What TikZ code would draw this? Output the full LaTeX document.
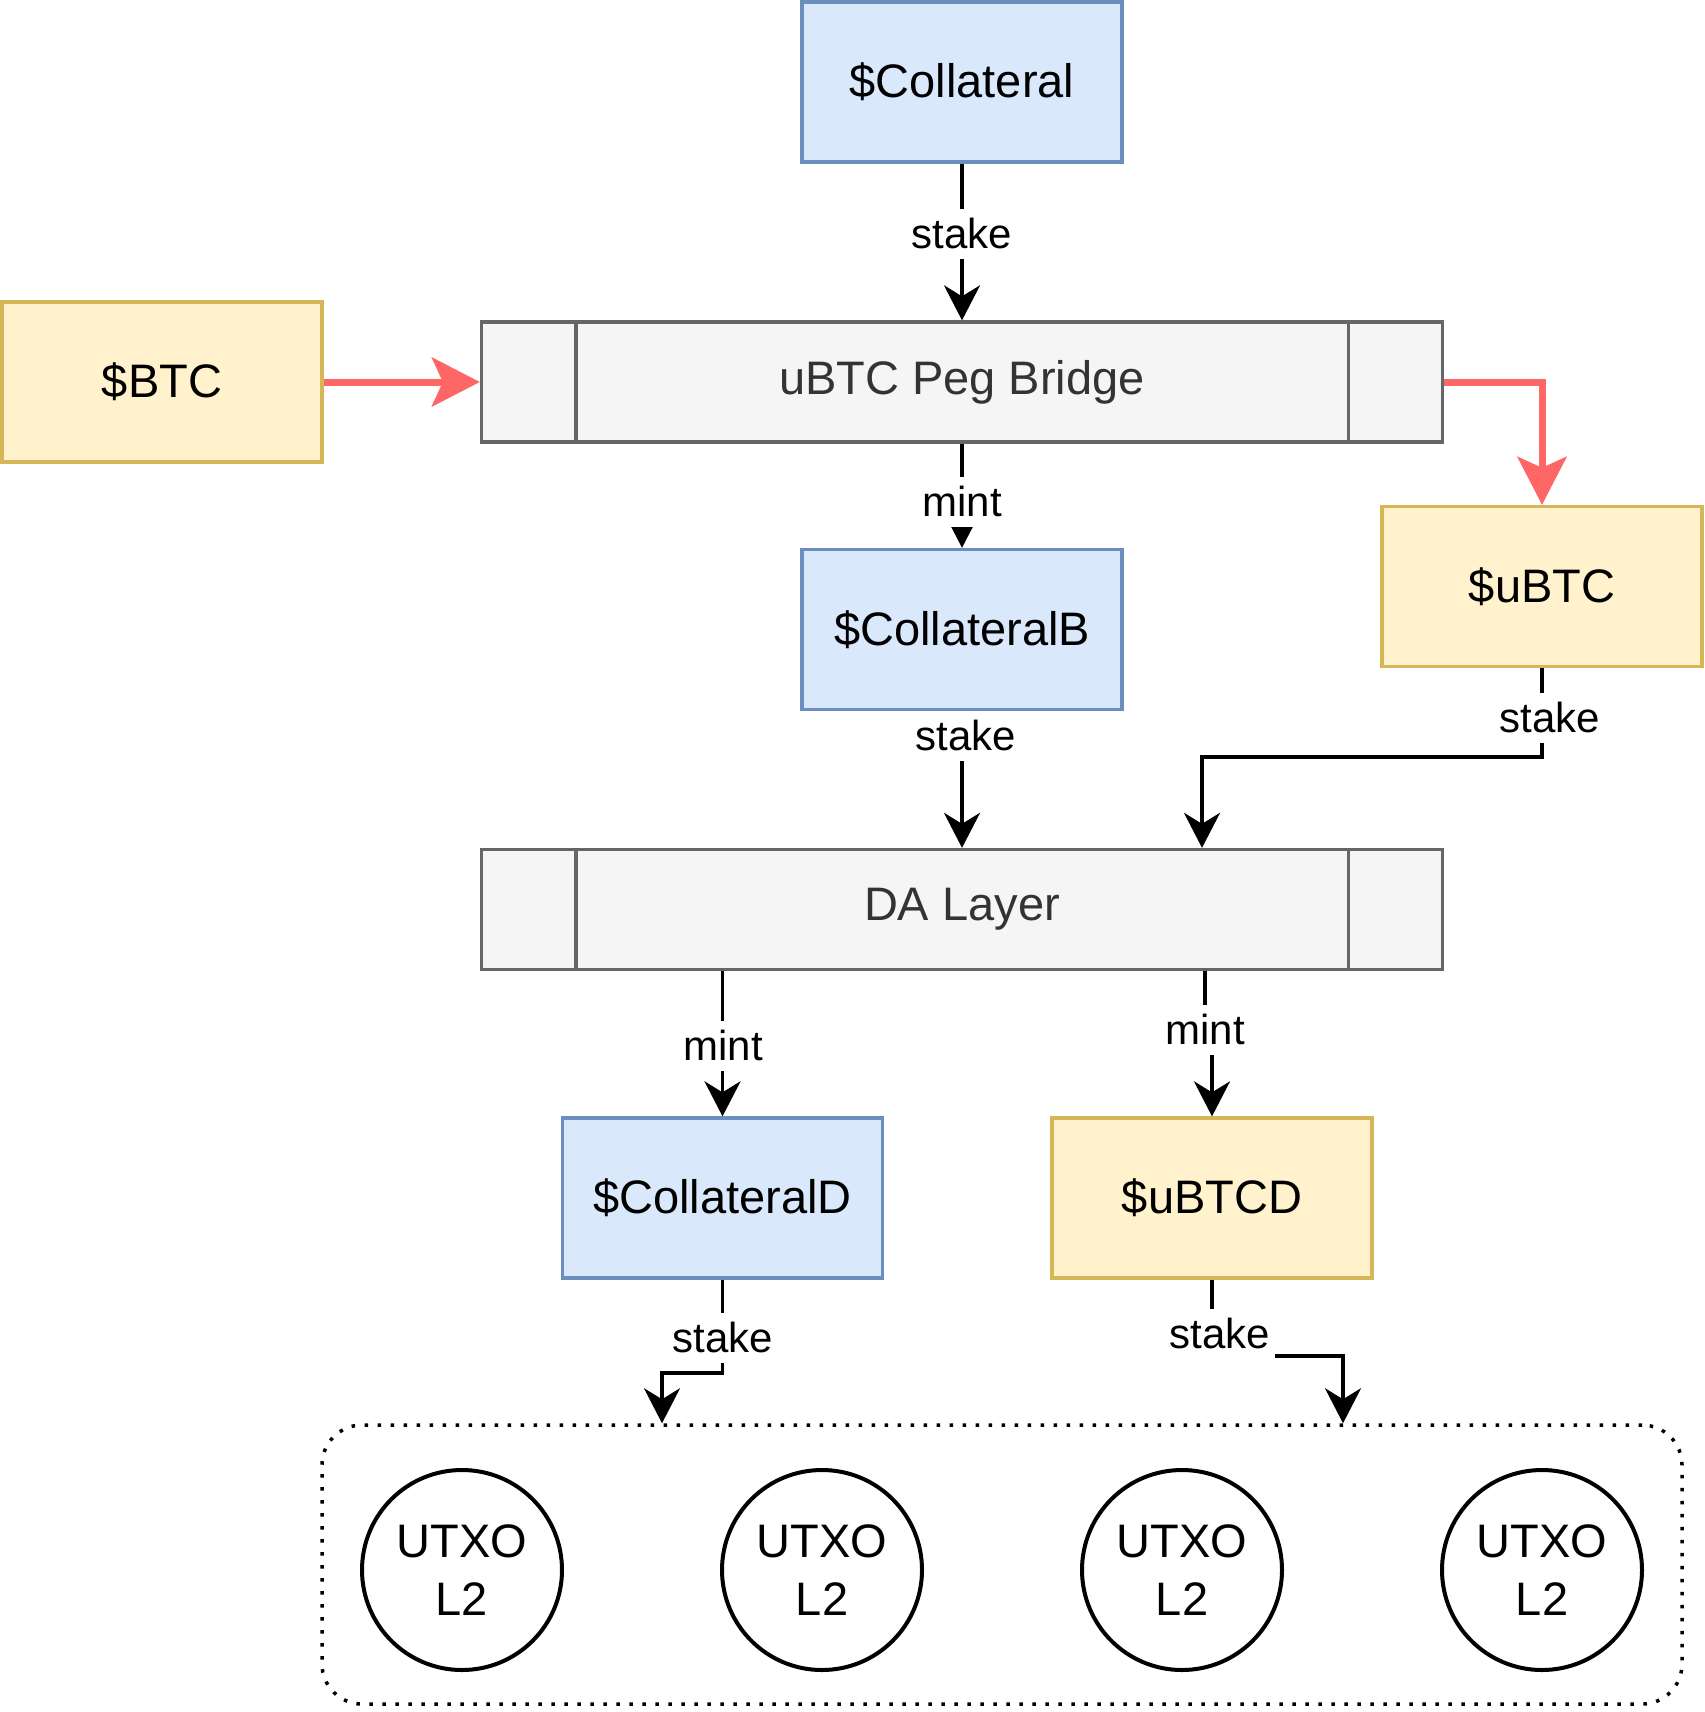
\documentclass[tikz,border=0pt]{standalone}
\usepackage{fontspec}
\setmainfont{Liberation Sans}
\usetikzlibrary{arrows.meta}
\definecolor{bluefill}{HTML}{DAE8FC}
\definecolor{bluestroke}{HTML}{6C8EBF}
\definecolor{yellowfill}{HTML}{FFF2CC}
\definecolor{yellowstroke}{HTML}{D6B656}
\definecolor{grayfill}{HTML}{F5F5F5}
\definecolor{graystroke}{HTML}{666666}
\definecolor{graytext}{HTML}{333333}
\definecolor{redc}{HTML}{FF6666}
\begin{document}
\begin{tikzpicture}[x=1pt,y=-1pt,
  box/.style={rectangle, minimum width=320pt, minimum height=160pt, inner sep=0pt,
    line width=3.3pt, font=\fontsize{47}{56}\selectfont},
  bluebox/.style={box, draw=bluestroke, fill=bluefill},
  yellowbox/.style={box, draw=yellowstroke, fill=yellowfill},
  procbox/.style={rectangle, minimum width=961pt, minimum height=120pt, inner sep=0pt,
    draw=graystroke, fill=grayfill, line width=3.3pt, text=graytext,
    font=\fontsize{47}{56}\selectfont},
  divider/.style={draw=graystroke, line width=3.3pt},
  utxo/.style={circle, draw, line width=4pt, minimum size=200pt, inner sep=0pt,
    align=center, font=\fontsize{47}{58}\selectfont},
  lbl/.style={fill=white, font=\fontsize{42}{50}\selectfont, text height=35.5pt,
    text depth=6.5pt, inner xsep=5pt, inner ysep=4pt},
  conn/.style={line width=3.6pt, -{Stealth[length=35pt,width=36pt,inset=11pt]}},
  redconn/.style={draw=redc, line width=7pt,
    -{Stealth[length=48pt,width=49pt,inset=11pt,fill=redc]}},
  pool/.style={draw, line width=3.5pt, rounded corners=40pt,
    dash pattern=on 3.5pt off 9.5pt, minimum width=1360pt, minimum height=279pt,
    inner sep=0pt}
]
\useasboundingbox (0,0) rectangle (1704,1712);

% nodes
\node[bluebox] (coll) at (962,82) {\$Collateral};
\node[yellowbox] (btc) at (162,382) {\$BTC};
\node[procbox] (bridge) at (962,382) {uBTC Peg Bridge};
\draw[divider] ([xshift=96pt]bridge.north west) -- ([xshift=96pt]bridge.south west);
\draw[divider] ([xshift=-96pt]bridge.north east) -- ([xshift=-96pt]bridge.south east);
\node[bluebox] (collB) at (962,629.5) {\$CollateralB};
\node[yellowbox] (ubtc) at (1542,586.5) {\$uBTC};
\node[procbox] (da) at (962,909.5) {DA Layer};
\draw[divider] ([xshift=96pt]da.north west) -- ([xshift=96pt]da.south west);
\draw[divider] ([xshift=-96pt]da.north east) -- ([xshift=-96pt]da.south east);
\node[bluebox] (collD) at (722.5,1198) {\$CollateralD};
\node[yellowbox] (ubtcd) at (1212,1198) {\$uBTCD};
\node[pool] (pool) at (1002,1564.5) {};
\node[utxo] (u1) at (462,1570) {UTXO\\L2};
\node[utxo] (u2) at (822,1570) {UTXO\\L2};
\node[utxo] (u3) at (1182,1570) {UTXO\\L2};
\node[utxo] (u4) at (1542,1570) {UTXO\\L2};

% bend points
\coordinate (k6) at (1202,757);
\coordinate (k8) at (1205,1040);
\coordinate (k9) at (662,1373);
\coordinate (k10) at (1343,1356);

% connectors
\draw[conn] (coll.south) -- (bridge.north);
\draw[redconn] (btc.east) -- (bridge.west);
\draw[redconn] (bridge.east) -| (ubtc.north);
\draw[conn] (bridge.south) -- (collB.north);
\draw[conn] (collB.south) -- (da.north);
\draw[conn] (ubtc.south) |- (k6) -- (k6 |- da.north);
\draw[conn] (da.south -| collD.south) -- (collD.north);
\draw[conn] (k8 |- da.south) -- (k8) -| (ubtcd.north);
\draw[conn] (collD.south) |- (k9) -- (k9 |- pool.north);
\draw[conn] (ubtcd.south) |- (k10) -- (k10 |- pool.north);

% labels
\node[lbl] (s1) at (962,234) {stake};
\node[lbl] (m1) at (962,501.5) {mint};
\node[lbl] (s2) at (966,736) {stake};
\node[lbl] (s3) at (1550,717.5) {stake};
\node[lbl] (m2) at (723,1046) {mint};
\node[lbl] (m3) at (1205,1029.5) {mint};
\node[lbl] (s4) at (723,1338) {stake};
\node[lbl] (s5) at (1220,1334) {stake};
\end{tikzpicture}
\end{document}
